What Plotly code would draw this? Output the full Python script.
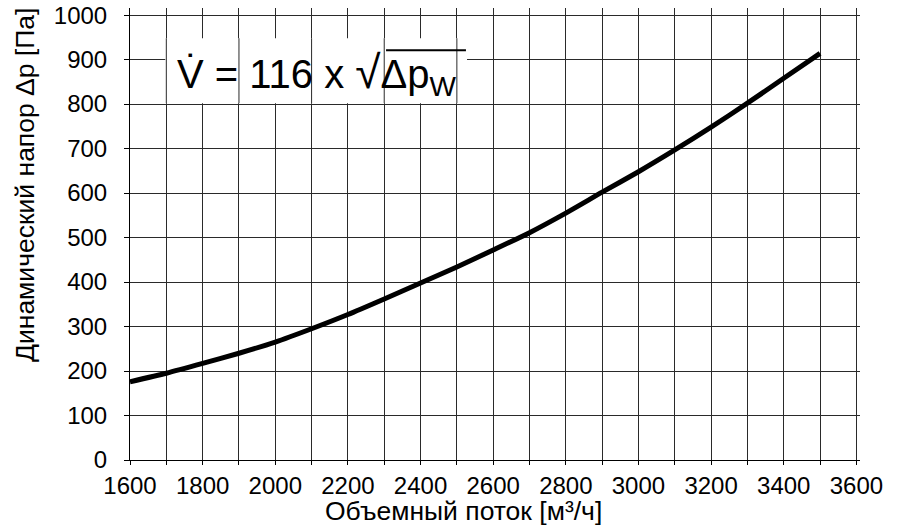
import plotly.graph_objects as go

# Data
flow = [1600, 1700, 1800, 1900, 2000, 2100, 2200, 2300, 2400, 2500,
        2600, 2700, 2800, 2900, 3000, 3100, 3200, 3300, 3400, 3500]
pressure = [176, 195, 217, 240, 265, 295, 327, 362, 398, 434,
            472, 511, 555, 602, 648, 697, 748, 802, 858, 914]

x_ticks = list(range(1600, 3601, 200))
y_ticks = list(range(0, 1001, 100))
odd_grid = [1700, 1900, 2100, 2300, 2500]

x_title = "Объемный поток [м³/ч]"
y_title = "Динамический напор Δр [Па]"

FONT = "Liberation Sans, Arial, sans-serif"
GRID = "#2a2a2a"

L, T = 130, 8
PLOT_R, PLOT_B = 860, 460
W, H = 898, 531

fig = go.Figure()
fig.add_trace(go.Scatter(
    x=flow, y=pressure, mode="lines",
    line=dict(color="black", width=5, shape="spline", smoothing=0.6),
    hoverinfo="skip", showlegend=False,
))

# white label box covering the grid
box_x0, box_x1, box_y0, box_y1 = 1697, 2528, 802, 948
fig.add_shape(type="rect", xref="x", yref="y", x0=box_x0, x1=box_x1,
              y0=box_y0, y1=box_y1, fillcolor="white",
              line=dict(width=0), layer="between")
for gx in odd_grid:
    fig.add_shape(type="line", xref="x", yref="y", x0=gx, x1=gx,
                  y0=box_y0, y1=box_y1, line=dict(color=GRID, width=1),
                  layer="between")

# formula
fig.add_annotation(xref="x", yref="y", x=1724, y=868, xanchor="left",
                   yanchor="middle", showarrow=False,
                   text="V\u0307 = 116 x <span style='font-size:46px'>\u221A</span>Δp<sub>W</sub>",
                   font=dict(family=FONT, size=40, color="black"))
# overline of the root sign
fig.add_shape(type="line", xref="x", yref="y", x0=2305, x1=2525,
              y0=921, y1=921, line=dict(color="black", width=2),
              layer="above")

plot_w = PLOT_R - L
plot_h = PLOT_B - T
fig.add_annotation(xref="paper", yref="paper", x=(463 - L) / plot_w,
                   y=(PLOT_B - 511) / plot_h, xanchor="center", yanchor="middle",
                   showarrow=False, text=x_title,
                   font=dict(family=FONT, size=26.5, color="black"))
fig.add_annotation(xref="paper", yref="paper", x=(25 - L) / plot_w,
                   y=(PLOT_B - 185) / plot_h, xanchor="center", yanchor="middle",
                   showarrow=False, text=y_title, textangle=-90,
                   font=dict(family=FONT, size=26.5, color="black"))

fig.update_layout(
    width=W, height=H,
    margin=dict(l=L, r=W - PLOT_R, t=T, b=H - PLOT_B, pad=0),
    paper_bgcolor="white", plot_bgcolor="white",
    font=dict(family=FONT, size=24, color="black"),
    showlegend=False,
)
fig.update_xaxes(
    range=[1600, 3610], tickvals=x_ticks, ticktext=[str(v) for v in x_ticks],
    showgrid=True, gridcolor=GRID, gridwidth=1, automargin=False,
    ticks="outside", ticklen=4, tickcolor="black",
    showline=True, linecolor="black", linewidth=1,
    zeroline=False, ticklabeloverflow="allow",
    minor=dict(dtick=100, tick0=1600, showgrid=True, gridcolor=GRID,
               gridwidth=1, ticks="outside", ticklen=4, tickcolor="black"),
    tickfont=dict(family=FONT, size=24, color="black"),
)
fig.update_yaxes(
    range=[0, 1016], tickvals=y_ticks, ticktext=[str(v) for v in y_ticks],
    showgrid=True, gridcolor=GRID, gridwidth=1, automargin=False,
    ticks="outside", ticklen=5, tickcolor="black",
    showline=True, linecolor="black", linewidth=1,
    zeroline=False, ticklabelstandoff=12, ticklabeloverflow="allow",
    tickfont=dict(family=FONT, size=24, color="black"),
)

fig.write_html("out.html",
               config={"displayModeBar": False},
               post_script="document.body.style.margin='0';"
                           "document.body.style.padding='0';")
